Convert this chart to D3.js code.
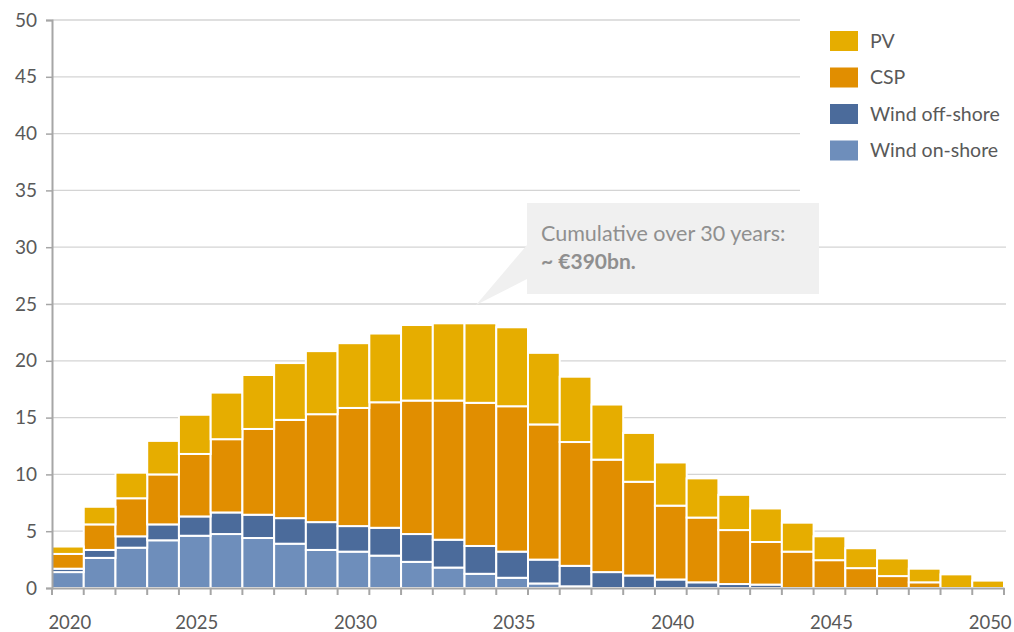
<!DOCTYPE html>
<html>
<head>
<meta charset="utf-8">
<script src="https://cdn.jsdelivr.net/npm/d3@7"></script>
<style>
  body { margin: 0; background: #fff; }
  svg { display: block; font-family: Lato, "Open Sans", sans-serif; }
</style>
</head>
<body>
<div class="chart"></div>
<script>
// investment per year, stacked by technology (bn EUR)
var years = [2021, 2022, 2023, 2024, 2025, 2026, 2027, 2028, 2029, 2030,
             2031, 2032, 2033, 2034, 2035, 2036, 2037, 2038, 2039, 2040,
             2041, 2042, 2043, 2044, 2045, 2046, 2047, 2048, 2049, 2050];

var windOnshore = [1.4, 2.65, 3.55, 4.2, 4.6, 4.75, 4.4, 3.9, 3.35, 3.2,
                   2.85, 2.3, 1.8, 1.25, 0.9, 0.4, 0.15, 0, 0, 0,
                   0, 0, 0, 0, 0, 0, 0, 0, 0, 0];
var windOffshore = [0.3, 0.7, 1.0, 1.4, 1.7, 1.9, 2.05, 2.25, 2.45, 2.25,
                    2.45, 2.45, 2.45, 2.45, 2.3, 2.1, 1.8, 1.4, 1.1, 0.75,
                    0.5, 0.35, 0.3, 0, 0, 0, 0, 0, 0, 0];
var csp = [1.3, 2.25, 3.35, 4.4, 5.5, 6.45, 7.55, 8.65, 9.5, 10.4,
           11.05, 11.75, 12.25, 12.6, 12.8, 11.9, 10.9, 9.9, 8.25, 6.5,
           5.7, 4.75, 3.75, 3.2, 2.45, 1.75, 1.05, 0.5, 0, 0];
var pv = [0.65, 1.55, 2.25, 2.95, 3.45, 4.1, 4.75, 5.0, 5.55, 5.7,
          6.05, 6.65, 6.8, 7.0, 6.95, 6.3, 5.75, 4.85, 4.3, 3.8,
          3.45, 3.1, 2.95, 2.55, 2.1, 1.75, 1.55, 1.2, 1.2, 0.65];

var seriesNames = ["Wind on-shore", "Wind off-shore", "CSP", "PV"];
var seriesColors = ["#6e8ebb", "#4b6b9b", "#e18e00", "#e6ad00"];

var yTicks = [0, 5, 10, 15, 20, 25, 30, 35, 40, 45, 50];
var xTickYears = [2021, 2025, 2030, 2035, 2040, 2045, 2050];
var xTickLabels = ["2020", "2025", "2030", "2035", "2040", "2045", "2050"];

var note1 = "Cumulative over 30 years:";
var note2 = "~ €390bn.";

var w = 1014, h = 632;
var mLeft = 52, mRight = 1004, mTop = 20, mBottom = 588;
var fontStack = 'Lato, "Open Sans", sans-serif';

var rows = years.map(function(yr, i) {
  return { year: yr, "Wind on-shore": windOnshore[i], "Wind off-shore": windOffshore[i], "CSP": csp[i], "PV": pv[i] };
});

var svg = d3.select('.chart').append('svg')
  .attr('width', w)
  .attr('height', h);

var x = d3.scaleBand().domain(years).range([mLeft, mRight]).padding(0);
var y = d3.scaleLinear().domain([0, 50]).range([mBottom, mTop]);
var color = d3.scaleOrdinal().domain(seriesNames).range(seriesColors);

// gridlines (upper ones stop where the legend starts)
svg.append('g').selectAll('line')
  .data(yTicks.filter(function(d) { return d > 0; }))
  .enter().append('line')
    .attr('x1', mLeft)
    .attr('x2', function(d) { return d > 30 ? 800 : 1006; })
    .attr('y1', function(d) { return y(d); })
    .attr('y2', function(d) { return y(d); })
    .attr('stroke', '#d4d4d4')
    .attr('stroke-width', 1.3);

// stacked bars
var stack = d3.stack().keys(seriesNames);
svg.append('g').selectAll('g')
  .data(stack(rows))
  .enter().append('g')
    .attr('fill', function(d) { return color(d.key); })
  .selectAll('rect')
  .data(function(d) { return d.filter(function(s) { return s[1] - s[0] > 0; }); })
  .enter().append('rect')
    .attr('x', function(d) { return x(d.data.year); })
    .attr('width', x.bandwidth())
    .attr('y', function(d) { return y(d[1]); })
    .attr('height', function(d) { return y(d[0]) - y(d[1]); })
    .attr('stroke', '#fff')
    .attr('stroke-width', 2);

// axes
var yAxis = svg.append('g')
  .attr('transform', 'translate(' + mLeft + ',0)')
  .call(d3.axisLeft(y).tickValues(yTicks).tickSize(6).tickPadding(9));
var xAxis = svg.append('g')
  .attr('transform', 'translate(0,' + mBottom + ')')
  .call(d3.axisBottom(x).tickValues([]).tickSizeOuter(0));

// band boundary ticks on x axis
xAxis.selectAll('.bound')
  .data(years.concat(['end']))
  .enter().append('line')
    .attr('class', 'bound')
    .attr('x1', function(d) { return d === 'end' ? mRight : x(d); })
    .attr('x2', function(d) { return d === 'end' ? mRight : x(d); })
    .attr('y1', 0)
    .attr('y2', 7)
    .attr('stroke', '#a6a6a6')
    .attr('stroke-width', 2);

xAxis.selectAll('.lbl')
  .data(xTickYears)
  .enter().append('text')
    .attr('class', 'lbl')
    .attr('x', function(d) { return x(d) + x.bandwidth() / 2 + 2; })
    .attr('y', 41)
    .attr('text-anchor', 'middle')
    .attr('fill', '#595959')
    .style('font-size', '18.5px')
    .style('font-family', fontStack)
    .text(function(d, i) { return xTickLabels[i]; });

[yAxis, xAxis].forEach(function(a) {
  a.select('.domain').attr('stroke', '#a6a6a6').attr('stroke-width', 2);
  a.selectAll('.tick line').attr('stroke', '#a6a6a6').attr('stroke-width', 1.5);
  a.selectAll('.tick text').attr('fill', '#595959').style('font-size', '19px').style('font-family', fontStack);
});

// annotation callout
var note = svg.append('g');
note.append('polygon')
  .attr('points', [[527, 245], [527, 279], [476, 305]].join(' '))
  .attr('fill', '#f0f0f0');
note.append('rect')
  .attr('x', 527).attr('y', 203)
  .attr('width', 292).attr('height', 91)
  .attr('fill', '#f0f0f0');
note.append('text')
  .attr('x', 541).attr('y', 241)
  .attr('fill', '#8f8f8f')
  .style('font-size', '21.5px')
  .text(note1);
note.append('text')
  .attr('x', 541).attr('y', 269)
  .attr('fill', '#8f8f8f')
  .style('font-size', '21px')
  .style('font-weight', 'bold')
  .text(note2);

// legend
var legend = svg.append('g').selectAll('g')
  .data(seriesNames.slice().reverse())
  .enter().append('g')
    .attr('transform', function(d, i) { return 'translate(830,' + (31 + i * 36.5) + ')'; });
legend.append('rect')
  .attr('width', 28)
  .attr('height', 20)
  .attr('fill', function(d) { return color(d); });
legend.append('text')
  .attr('x', 40)
  .attr('y', 10)
  .attr('dy', '0.35em')
  .attr('fill', '#595959')
  .style('font-size', '19.5px')
  .text(function(d) { return d; });
</script>
</body>
</html>
